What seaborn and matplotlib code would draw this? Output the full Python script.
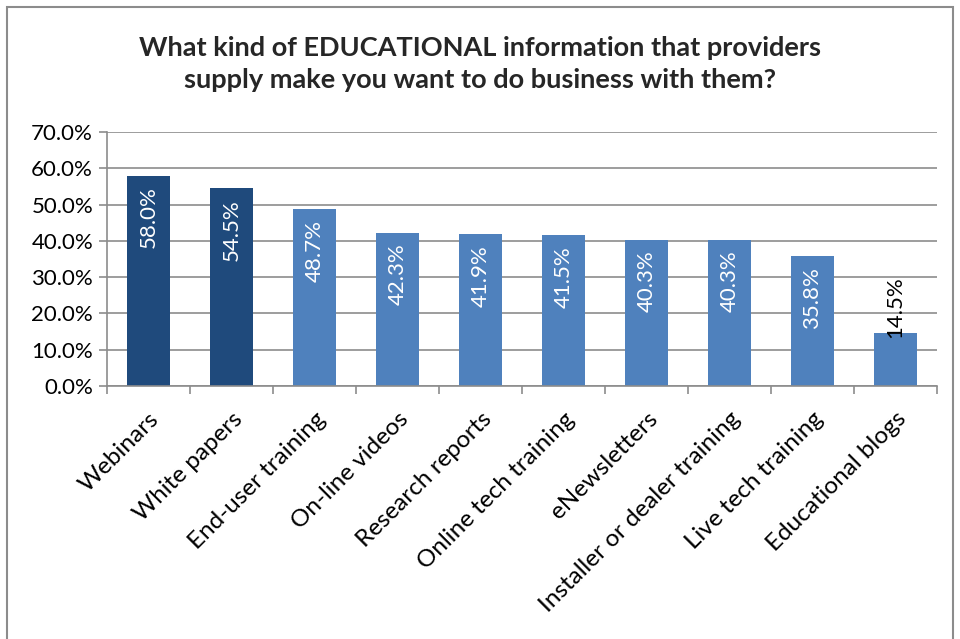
import matplotlib
matplotlib.use("Agg")
import matplotlib.pyplot as plt
from matplotlib.patches import Rectangle
from matplotlib.ticker import FuncFormatter, MultipleLocator
import seaborn as sns
import pandas as pd

categories = ["Webinars", "White papers", "End-user training", "On-line videos",
              "Research reports", "Online tech training", "eNewsletters",
              "Installer or dealer training", "Live tech training", "Educational blogs"]
values = [58.0, 54.5, 48.7, 42.3, 41.9, 41.5, 40.3, 40.3, 35.8, 14.5]
bar_colors = ["#1F4A7C", "#1F4A7C", "#4F81BD", "#4F81BD", "#4F81BD",
              "#4F81BD", "#4F81BD", "#4F81BD", "#4F81BD", "#4F81BD"]
title = ("What kind of EDUCATIONAL information that providers\n"
         "supply make you want to do business with them?")

sns.set_theme(style="white")
plt.rcParams["font.family"] = ["Lato", "DejaVu Sans"]

df = pd.DataFrame({"category": categories, "value": values})

fig = plt.figure(figsize=(9.6, 6.39), dpi=100)
ax = fig.add_axes([107 / 960, 1 - 386 / 639, 830 / 960, 254 / 639])

sns.barplot(data=df, x="category", y="value", hue="category",
            palette=dict(zip(categories, bar_colors)), order=categories,
            width=0.53, saturation=1, legend=False, linewidth=0, ax=ax)

ax.set_ylim(0, 70)
ax.set_xlim(-0.5, len(categories) - 0.5)
ax.yaxis.set_major_locator(MultipleLocator(10))
ax.yaxis.set_major_formatter(FuncFormatter(lambda v, _: f"{v:.1f}%"))
ax.grid(axis="y", color="#8C8C8C", linewidth=1.2)
ax.set_axisbelow(True)
ax.set_xlabel("")
ax.set_ylabel("")

for side in ["top", "right"]:
    ax.spines[side].set_visible(False)
for side in ["left", "bottom"]:
    ax.spines[side].set_color("#8C8C8C")
    ax.spines[side].set_linewidth(1.2)

ax.tick_params(axis="y", which="major", left=True, length=6, width=1.2,
               color="#8C8C8C", labelsize=16, pad=4, labelcolor="black")
# Category boundary ticks below the x axis
ax.set_xticks(range(len(categories)))
ax.set_xticklabels(categories, rotation=45, ha="right", rotation_mode="anchor",
                   fontsize=17.5, color="black")
ax.tick_params(axis="x", which="major", bottom=False, pad=10)
ax.set_xticks([i - 0.5 for i in range(len(categories) + 1)], minor=True)
ax.tick_params(axis="x", which="minor", bottom=True, length=6, width=1.2,
               color="#8C8C8C")

# Value labels: white inside the bar top, black above the short bar
for i, v in enumerate(values):
    if v > 25:
        ax.text(i, v - 3.0, f"{v:.1f}%", rotation=90, ha="center", va="top",
                color="white", fontsize=16)
    else:
        ax.text(i, v - 1.2, f"{v:.1f}%", rotation=90, ha="center", va="bottom",
                color="black", fontsize=16)

fig.text(0.5, 1 - 64 / 639, title, ha="center", va="center",
         fontsize=19.5, fontweight="bold", linespacing=1.4)

fig.patches.append(Rectangle((7 / 960, -0.05), 946 / 960, 1.05 - 7 / 639,
                             transform=fig.transFigure, fill=False,
                             edgecolor="#8C8C8C", linewidth=1.5))

fig.savefig("out.png", dpi=100)
